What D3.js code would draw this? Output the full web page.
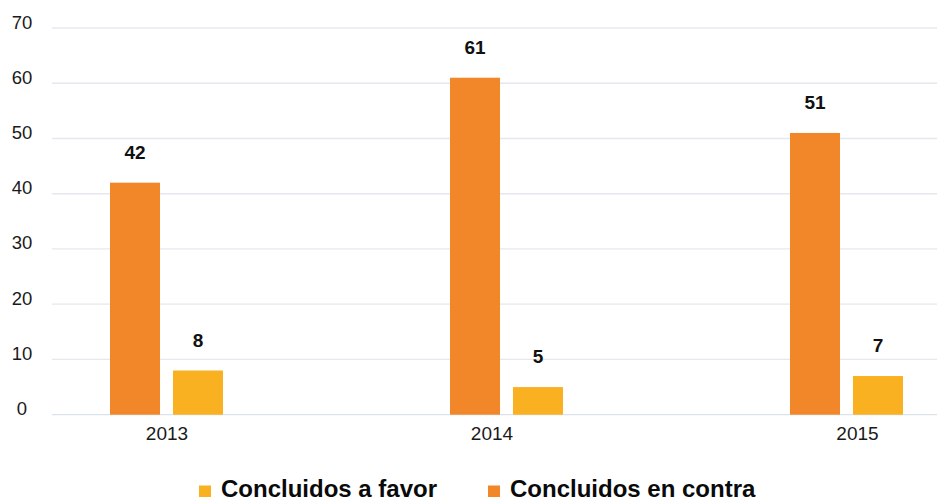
<!DOCTYPE html>
<html>
<head>
<meta charset="utf-8">
<script src="https://cdn.jsdelivr.net/npm/d3@7/dist/d3.min.js"></script>
<style>
  html, body { margin: 0; padding: 0; background: #fff; }
  svg { display: block; font-family: "Liberation Sans", Arial, sans-serif; }
</style>
</head>
<body>
<svg id="chart" width="937" height="501"></svg>
<script>
// Casos concluidos por año
const years = ["2013", "2014", "2015"];
const enContra = [42, 61, 51];
const aFavor = [8, 5, 7];
const yTicks = [0, 10, 20, 30, 40, 50, 60, 70];
const seriesNames = ["Concluidos en contra", "Concluidos a favor"];
const legendOrder = ["Concluidos a favor", "Concluidos en contra"];

const colors = { "Concluidos en contra": "#F2872A", "Concluidos a favor": "#F9B122" };
const seriesValues = { "Concluidos en contra": enContra, "Concluidos a favor": aFavor };

const svg = d3.select("#chart");
const gridLeft = 52, gridRight = 937;

const y = d3.scaleLinear().domain([0, 70]).range([414.7, 28]);
const x0 = d3.scalePoint().domain(years).range([166.5, 846.5]);
const x1 = d3.scaleBand().domain(seriesNames).range([-56.5, 56.5]).paddingInner(0.206).paddingOuter(0);

// Gridlines
svg.append("g")
  .selectAll("line")
  .data(yTicks)
  .join("line")
  .attr("x1", gridLeft).attr("x2", gridRight)
  .attr("y1", d => y(d)).attr("y2", d => y(d))
  .attr("stroke", d => d === 0 ? "#DCE2EA" : "#E5E8EE")
  .attr("stroke-width", 1.3);

// Y axis labels
const yAxis = d3.axisLeft(y).tickValues(yTicks).tickSize(0).tickPadding(0);
const yg = svg.append("g").attr("transform", "translate(22,0)").call(yAxis);
yg.select(".domain").remove();
yg.selectAll("text")
  .attr("x", 0).attr("dy", 0)
  .attr("text-anchor", "middle")
  .attr("font-size", "18.5px")
  .attr("font-family", "'Liberation Sans', Arial, sans-serif")
  .attr("fill", "#1a1a1a");

// X axis labels (slight nudges keep them where the layout places them)
const tickNudge = { "2013": 0, "2014": -15, "2015": 10.5 };
const xAxis = d3.axisBottom(x0).tickSize(0).tickPadding(0);
const xg = svg.append("g").attr("transform", "translate(0,439.5)").call(xAxis);
xg.select(".domain").remove();
xg.selectAll(".tick text")
  .attr("x", d => tickNudge[d]).attr("y", 0).attr("dy", 0)
  .attr("font-size", "19px")
  .attr("font-family", "'Liberation Sans', Arial, sans-serif")
  .attr("fill", "#1a1a1a");

// Bars
const rows = [];
years.forEach((yr, i) => {
  seriesNames.forEach(s => rows.push({ year: yr, series: s, value: seriesValues[s][i] }));
});

svg.append("g")
  .selectAll("rect")
  .data(rows)
  .join("rect")
  .attr("x", d => x0(d.year) + x1(d.series))
  .attr("width", x1.bandwidth())
  .attr("y", d => y(d.value))
  .attr("height", d => y(0) - y(d.value))
  .attr("fill", d => colors[d.series]);

// Value labels
svg.append("g")
  .selectAll("text")
  .data(rows)
  .join("text")
  .attr("x", d => x0(d.year) + x1(d.series) + x1.bandwidth() / 2)
  .attr("y", d => y(d.value) - 24)
  .attr("text-anchor", "middle")
  .attr("font-size", "19px")
  .attr("font-weight", "bold")
  .attr("fill", "#111")
  .text(d => d.value);

// Legend
const legendX = { "Concluidos a favor": 199, "Concluidos en contra": 488 };
const lg = svg.append("g").selectAll("g").data(legendOrder).join("g")
  .attr("transform", d => `translate(${legendX[d]},0)`);
lg.append("rect")
  .attr("x", 0).attr("y", 485.5).attr("width", 12).attr("height", 11.5)
  .attr("fill", d => colors[d]);
lg.append("text")
  .attr("x", 22).attr("y", 496.5)
  .attr("font-size", "24px")
  .attr("font-weight", "bold")
  .attr("fill", "#0a0a0a")
  .text(d => d);
</script>
</body>
</html>
